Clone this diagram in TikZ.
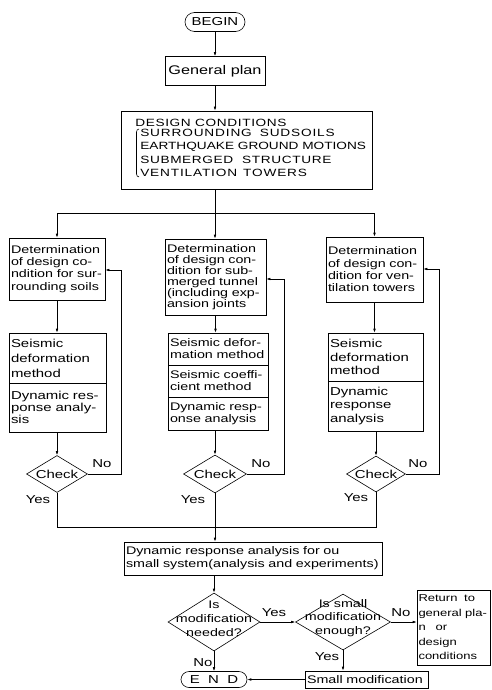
\documentclass[tikz,border=0pt]{standalone}
\usepackage{fontspec}
\setmainfont{Liberation Sans}[FakeStretch=1.3]
\newfontfamily\capsA{Liberation Sans}[FakeStretch=1.3,LetterSpace=6]
\newfontfamily\capsB{Liberation Sans}[FakeStretch=1.3,LetterSpace=8]
\usetikzlibrary{shapes.geometric,arrows.meta}
\newcommand\fsz[2]{\fontsize{#1}{#2}\selectfont}
\begin{document}
\begin{tikzpicture}[x=1pt,y=-1pt, line width=0.6pt,
 every node/.style={inner sep=0pt},
 box/.style={draw, rectangle, align=left, inner xsep=2pt, font=\fsz{11}{12.3}},
 pill/.style={draw, rectangle, font=\fsz{11.5}{12}},
 dia/.style={draw, diamond, inner sep=0pt},
 lbl/.style={font=\fsz{11.5}{12}},
 arr/.style={-{Latex[length=4pt,width=2.6pt]}}
]
\useasboundingbox (0,0) rectangle (491,690);

% top
\node[pill, rounded corners=9.5pt, minimum width=60pt, minimum height=19pt] (begin) at (215,22) {BEGIN};
\node[box, align=center, font=\fsz{12.5}{13}, minimum width=100pt, minimum height=29pt] (gp) at (215,71) {General plan};
\node[draw, minimum width=251pt, minimum height=78pt] (dc) at (246.5,150) {};
\node[anchor=base west, font=\capsA\fsz{10.5}{12}] (dct) at (135,126) {DESIGN CONDITIONS};
\node[anchor=north west, align=left, font=\fsz{10.5}{13.3}] (dcl) at (140,129)
  {{\capsB SURROUNDING\hspace{8pt}SUDSOILS}\\EARTHQUAKE GROUND MOTIONS\\{\capsA SUBMERGED\ \ STRUCTURE}\\{\capsB VENTILATION\hspace{6pt}TOWERS}};
\draw ([xshift=-1pt]dcl.north west) to[out=180,in=90] ([xshift=-3.5pt,yshift=-3pt]dcl.north west)
  -- ([xshift=-3.5pt,yshift=3pt]dcl.south west) to[out=-90,in=180] ([xshift=-1pt]dcl.south west);

\draw[arr] (begin.south) -- (begin.south |- gp.north);
\draw[arr] (gp.south) -- (gp.south |- dc.north);
\coordinate (bus1) at (215,213);
\draw (gp.south |- dc.south) -- (bus1);

% column boxes
\node[box, minimum width=96pt, minimum height=62pt, text width=92pt] (l1) at (57,269)
  {Determination\\of design co-\\ndition for sur-\\rounding soils};
\node[box, font=\fsz{11}{11}, minimum width=101pt, minimum height=76pt, text width=97pt] (m1) at (215.5,277)
  {Determination\\of design con-\\dition for sub-\\merged tunnel\\(including exp-\\ansion joints};
\node[box, minimum width=97pt, minimum height=65pt, text width=93pt] (r1) at (374.5,269.5)
  {Determination\\of design con-\\dition for ven-\\tilation towers};

\draw[arr] (bus1) -| (l1.north);
\draw[arr] (bus1) -| (r1.north);
\draw[arr] (bus1) -- (bus1 |- m1.north);

\node[box, font=\fsz{11.5}{15}, minimum width=97pt, minimum height=50pt, text width=93pt] (l2a) at (57.5,358)
  {Seismic\\deformation\\method};
\node[box, font=\fsz{11.5}{12}, minimum width=97pt, minimum height=49pt, text width=93pt] (l2b) at (57.5,407.5)
  {Dynamic res-\\ponse analy-\\sis};
\node[box, font=\fsz{11}{12}, minimum width=100pt, minimum height=32pt, text width=96pt] (m2a) at (218,349)
  {Seismic defor-\\mation method};
\node[box, font=\fsz{11}{12}, minimum width=100pt, minimum height=32pt, text width=96pt] (m2b) at (218,381)
  {Seismic coeffi-\\cient method};
\node[box, font=\fsz{11}{12}, minimum width=100pt, minimum height=33pt, text width=96pt] (m2c) at (218,413.5)
  {Dynamic resp-\\onse analysis};
\node[box, font=\fsz{11.5}{13.5}, minimum width=95pt, minimum height=48pt, text width=91pt] (r2a) at (375.5,357)
  {Seismic\\deformation\\method};
\node[box, font=\fsz{11.5}{13.5}, minimum width=95pt, minimum height=50pt, text width=91pt] (r2b) at (375.5,406)
  {Dynamic\\response\\analysis};

\draw[arr] (l1.south) -- (l1.south |- l2a.north);
\draw[arr] (m1.south) -- (m1.south |- m2a.north);
\draw[arr] (r1.south) -- (r1.south |- r2a.north);

% checks
\node[dia, minimum width=61pt, minimum height=37pt] (cL) at (57,474) {};
\node[lbl] (cLt) at (cL) {Check};
\node[dia, minimum width=63pt, minimum height=38pt] (cM) at (215,474) {};
\node[lbl] (cMt) at (cM) {Check};
\node[dia, minimum width=59pt, minimum height=36pt] (cR) at (376,474) {};
\node[lbl] (cRt) at (cR) {Check};

\draw[arr] (l2b.south -| cL) -- (cL.north);
\draw[arr] (m2c.south -| cM) -- (cM.north);
\draw[arr] (r2b.south -| cR) -- (cR.north);

\coordinate (fL) at (121,270);
\coordinate (fM) at (284,279);
\coordinate (fR) at (439,269);
\draw[arr] (cL.east) -| (fL) -- (fL -| l1.east);
\draw[arr] (cM.east) -| (fM) -- (fM -| m1.east);
\draw[arr] (cR.east) -| (fR) -- (fR -| r1.east);

\node[lbl] (noL) at (102,464) {No};
\node[lbl] (noM) at (261,464) {No};
\node[lbl] (noR) at (418,464) {No};
\node[lbl] (yesL) at (38,500) {Yes};
\node[lbl] (yesM) at (193,500) {Yes};
\node[lbl] (yesR) at (356,498) {Yes};

\coordinate (bus2) at (215,527);
\draw (cL.south) |- (bus2);
\draw (cR.south) |- (bus2);
\draw (cM.south) -- (bus2);

% bottom
\node[box, font=\fsz{11}{13}, minimum width=258pt, minimum height=33pt, text width=254pt] (dyn) at (253,558.5)
  {Dynamic response analysis for ou\\small system(analysis and experiments)};
\draw[arr] (bus2) -- (bus2 |- dyn.north);

\node[dia, minimum width=92pt, minimum height=58pt] (q1) at (214,622) {};
\node[lbl, align=center, font=\fsz{11}{14}] (q1t) at (214,619) {Is\\modification\\needed?};
\node[dia, minimum width=95pt, minimum height=56pt] (q2) at (343,622) {};
\node[lbl, align=center, font=\fsz{11}{13.5}] (q2t) at (343,618) {Is small\\modification\\enough?};
\node[box, font=\fsz{10}{14.5}, inner xsep=1.5pt, minimum width=73pt, minimum height=75pt, text width=70pt] (ret) at (453.5,627.5)
  {Return\ \ to\\general pla-\\n\quad or\\design\\conditions};
\node[box, font=\fsz{11}{12}, minimum width=123pt, minimum height=17pt, text width=119pt] (sm) at (366.5,679.5) {Small modification};
\node[pill, rounded corners=8pt, minimum width=66pt, minimum height=16pt] (fin) at (214,679.5) {E\ \ N\ \ D};

\draw[arr] (dyn.south -| q1) -- (q1.north);
\draw[arr] (q1.east) -- (q2.west);
\draw[arr] (q2.east) -- (q2.east -| ret.west);
\draw[arr] (q2.south) -- (q2.south |- sm.north);
\draw[arr] (q1.south) -- (fin.north);
\draw[arr] (sm.west) -- (fin.east);

\node[lbl] (yes1) at (274,613) {Yes};
\node[lbl] (no2) at (401,613) {No};
\node[lbl] (yes2) at (327,657) {Yes};
\node[lbl] (no1) at (203,663) {No};
\end{tikzpicture}
\end{document}
